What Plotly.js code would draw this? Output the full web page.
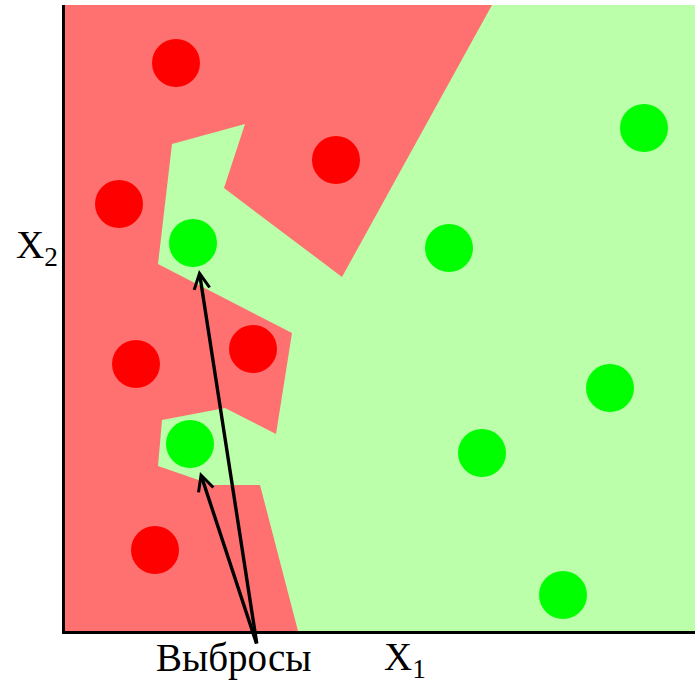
<!DOCTYPE html>
<html>
<head>
<meta charset="utf-8">
<script src="https://cdn.plot.ly/plotly-3.0.1.min.js"></script>
<style>
html,body{margin:0;padding:0;background:#fff;}
#chart{width:700px;height:700px;}
</style>
</head>
<body>
<div id="chart"></div>
<script>
// Decision-region boundary of the "red" class (x1, x2 in plot units)
const redRegionX1 = [0, 427, 277, 159, 180, 107, 93, 227, 211, 160, 97, 93, 148, 195, 233, 0];
const redRegionX2 = [626, 626, 354, 443, 507, 487, 367, 298, 197, 223, 211, 165, 146, 146, 0, 0];

// Class "red" points
const redX1 = [111, 271, 54, 188, 71, 90];
const redX2 = [568, 471, 427, 282, 267, 81];

// Class "green" points (first two are the outliers)
const greenX1 = [128, 125, 384, 579, 545, 417, 498];
const greenX2 = [388, 187, 383, 503, 243, 178, 36];

// Outlier arrows: tips (near outliers) and common tail (label)
const arrowTipX1 = [134, 135];
const arrowTipX2 = [361, 159];
const arrowTailX1 = 192;
const arrowTailX2 = -14;

const labelText = "Выбросы";
const xTitle = "X<sub>1</sub>";
const yTitle = "X<sub>2</sub>";

const fontFam = "Times New Roman";

const traces = [
  {
    x: redRegionX1, y: redRegionX2, type: "scatter", mode: "lines",
    fill: "toself", fillcolor: "#FF7070", line: {width: 0, color: "#FF7070"},
    hoverinfo: "skip", showlegend: false
  },
  {
    x: redX1, y: redX2, type: "scatter", mode: "markers",
    marker: {color: "#FF0000", size: 48, line: {width: 0}},
    showlegend: false, cliponaxis: false
  },
  {
    x: greenX1, y: greenX2, type: "scatter", mode: "markers",
    marker: {color: "#00FF00", size: 48, line: {width: 0}},
    showlegend: false, cliponaxis: false
  }
];

const annotations = arrowTipX1.map((tx, i) => ({
  x: tx, y: arrowTipX2[i], xref: "x", yref: "y",
  ax: arrowTailX1, ay: arrowTailX2, axref: "x", ayref: "y",
  text: "", showarrow: true, arrowhead: 5, arrowsize: 0.9,
  arrowwidth: 3.4, arrowcolor: "#000000"
}));

annotations.push(
  {x: 0.268, y: -0.043, xref: "paper", yref: "paper", text: labelText, showarrow: false,
   font: {family: fontFam, size: 39, color: "#000"}, xanchor: "center", yanchor: "middle"},
  {x: 0.5397, y: -0.045, xref: "paper", yref: "paper", text: xTitle, showarrow: false,
   font: {family: fontFam, size: 39, color: "#000"}, xanchor: "center", yanchor: "middle"},
  {x: -0.0444, y: 0.612, xref: "paper", yref: "paper", text: yTitle, showarrow: false,
   font: {family: fontFam, size: 39, color: "#000"}, xanchor: "center", yanchor: "middle"}
);

const layout = {
  width: 700, height: 700,
  margin: {l: 65, r: 5, t: 5, b: 69, pad: 0},
  paper_bgcolor: "#FFFFFF",
  plot_bgcolor: "#BBFFAA",
  showlegend: false,
  hovermode: false,
  font: {family: fontFam, color: "#000"},
  xaxis: {
    range: [0, 630], showgrid: false, zeroline: false, showticklabels: false, ticks: "",
    showline: true, linecolor: "#000", linewidth: 3, mirror: false
  },
  yaxis: {
    range: [0, 626], showgrid: false, zeroline: false, showticklabels: false, ticks: "",
    showline: true, linecolor: "#000", linewidth: 3, mirror: false
  },
  annotations: annotations
};

Plotly.newPlot("chart", traces, layout, {displayModeBar: false, staticPlot: true});
</script>
</body>
</html>
